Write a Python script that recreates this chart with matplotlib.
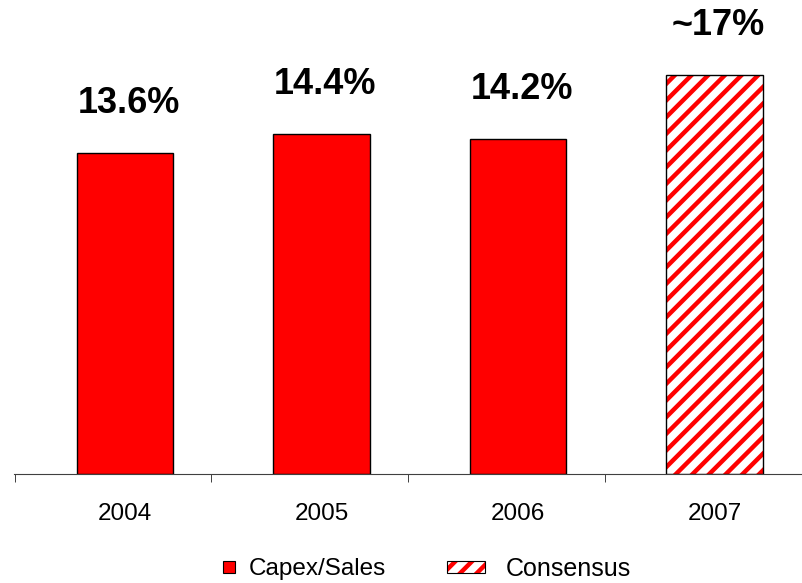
import matplotlib
matplotlib.use("Agg")
import matplotlib.pyplot as plt
from matplotlib.patches import Patch
from matplotlib.lines import Line2D
from matplotlib.legend_handler import HandlerTuple

years = ["2004", "2005", "2006", "2007"]
capex_sales = [13.6, 14.4, 14.2]
consensus = [16.9]
value_labels = ["13.6%", "14.4%", "14.2%", "~17%"]

plt.rcParams["font.family"] = ["Liberation Sans", "DejaVu Sans"]
plt.rcParams["hatch.linewidth"] = 3.2

fig = plt.figure(figsize=(8.03, 5.83), dpi=100)
ax = fig.add_axes([14 / 803, 109 / 583, 1 - 14 / 803, 474 / 583])

x = list(range(len(years)))
ax.bar(x[:3], capex_sales, width=0.49, color="#ff0000", edgecolor="black", linewidth=1)
# hatched forecast bar: red stripes, then a black outline on top
ax.bar(x[3:], consensus, width=0.49, color="white", edgecolor="#ff0000", hatch="//", linewidth=0)
ax.bar(x[3:], consensus, width=0.49, fill=False, edgecolor="black", linewidth=1)

heights = capex_sales + consensus
for xi, h, lab in zip(x, heights, value_labels):
    ax.text(xi + 0.02, h + 2.1, lab, ha="center", va="center",
            fontsize=26, fontweight="bold")

ax.set_xlim(-0.565, 3.45)
ax.set_ylim(0, 20.1)
for s in ["top", "right", "left"]:
    ax.spines[s].set_visible(False)
ax.spines["bottom"].set_color("#404040")
ax.set_yticks([])
ax.set_xticks(x)
ax.set_xticklabels(years, fontsize=17.5)
ax.tick_params(axis="x", which="major", length=0, pad=21)
ax.set_xticks([i - 0.56 for i in x], minor=True)
ax.tick_params(axis="x", which="minor", length=6, direction="out", color="#202020")

h1 = Line2D([], [], marker="s", linestyle="none", markersize=8.6,
            markerfacecolor="#ff0000", markeredgecolor="black", markeredgewidth=0.8)
h2a = Patch(facecolor="white", edgecolor="#ff0000", hatch="//", linewidth=0)
h2b = Patch(fill=False, edgecolor="black", linewidth=0.8)

leg1 = fig.legend([h1], ["Capex/Sales"], loc="center left",
                  bbox_to_anchor=(222 / 803, 0.024), frameon=False, fontsize=17.5,
                  handlelength=0.6, handletextpad=0.5, borderpad=0, borderaxespad=0)
fig.legend([(h2a, h2b)], ["Consensus"], handler_map={tuple: HandlerTuple(ndivide=1)},
           loc="center left", bbox_to_anchor=(447 / 803, 0.024), frameon=False,
           fontsize=18, handlelength=1.52, handleheight=0.33, handletextpad=0.85,
           borderpad=0, borderaxespad=0)

fig.savefig("out.png", dpi=100)
